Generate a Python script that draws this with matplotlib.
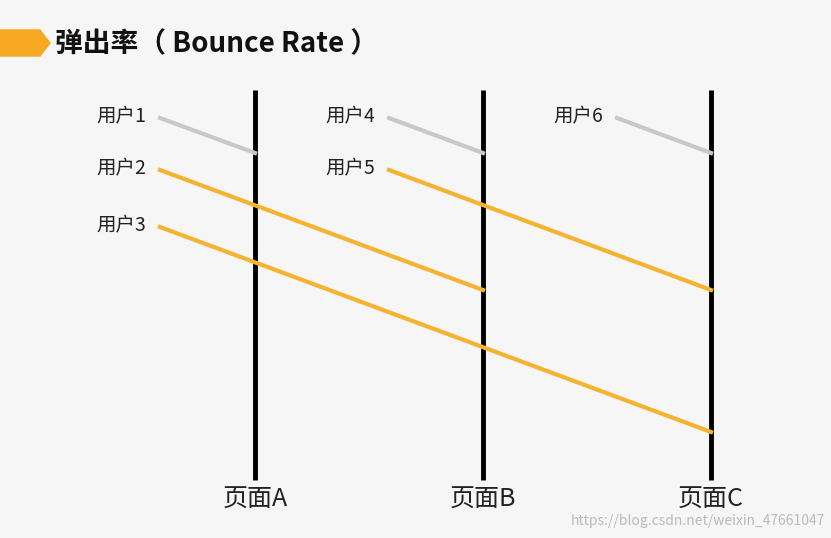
import matplotlib
matplotlib.use("Agg")
import matplotlib.pyplot as plt
from matplotlib.patches import Polygon

plt.rcParams['font.family'] = ['Noto Sans CJK SC', 'DejaVu Sans']

pages = ["页面A", "页面B", "页面C"]
page_x = [255, 483, 711]
users = ["用户1", "用户2", "用户3", "用户4", "用户5", "用户6"]
user_label_x = [121, 121, 121, 350, 350, 578]
user_y = [118, 170, 227, 118, 170, 118]
user_end_x = [255, 483, 711, 483, 711, 711]
user_end_y = [153, 290, 432, 153, 290, 153]
bounced = [True, False, False, True, False, True]

fig = plt.figure(figsize=(8.31, 5.38), dpi=100)
fig.patch.set_facecolor("#f6f6f6")
ax = fig.add_axes([0, 0, 1, 1])
ax.set_xlim(0, 831); ax.set_ylim(538, 0); ax.axis("off")

ax.add_patch(Polygon([[0, 30], [40, 30], [50, 43], [40, 56], [0, 56]], closed=True,
                     color="#f7a823"))
ax.text(55, 44, "弹出率（ Bounce Rate ）", fontsize=20, fontweight="bold",
        va="center", ha="left", color="#111111")

for x, p in zip(page_x, pages):
    ax.plot([x, x], [90, 480], color="black", lw=3.5, solid_capstyle="butt")
    ax.text(x, 500, p, fontsize=18, ha="center", va="center", color="#222222")

for name, lx, y, ex, ey, b in zip(users, user_label_x, user_y, user_end_x, user_end_y, bounced):
    ax.text(lx, y - 1, name, fontsize=14, ha="center", va="center", color="#222222")
    ax.plot([lx + 39, ex], [y, ey], color="#c8c8c8" if b else "#f5b331", lw=3)

ax.text(825, 528, "https://blog.csdn.net/weixin_47661047", fontsize=10, ha="right",
        va="bottom", color="#bbbbbb")
fig.savefig("out.png", dpi=100, facecolor=fig.get_facecolor())
